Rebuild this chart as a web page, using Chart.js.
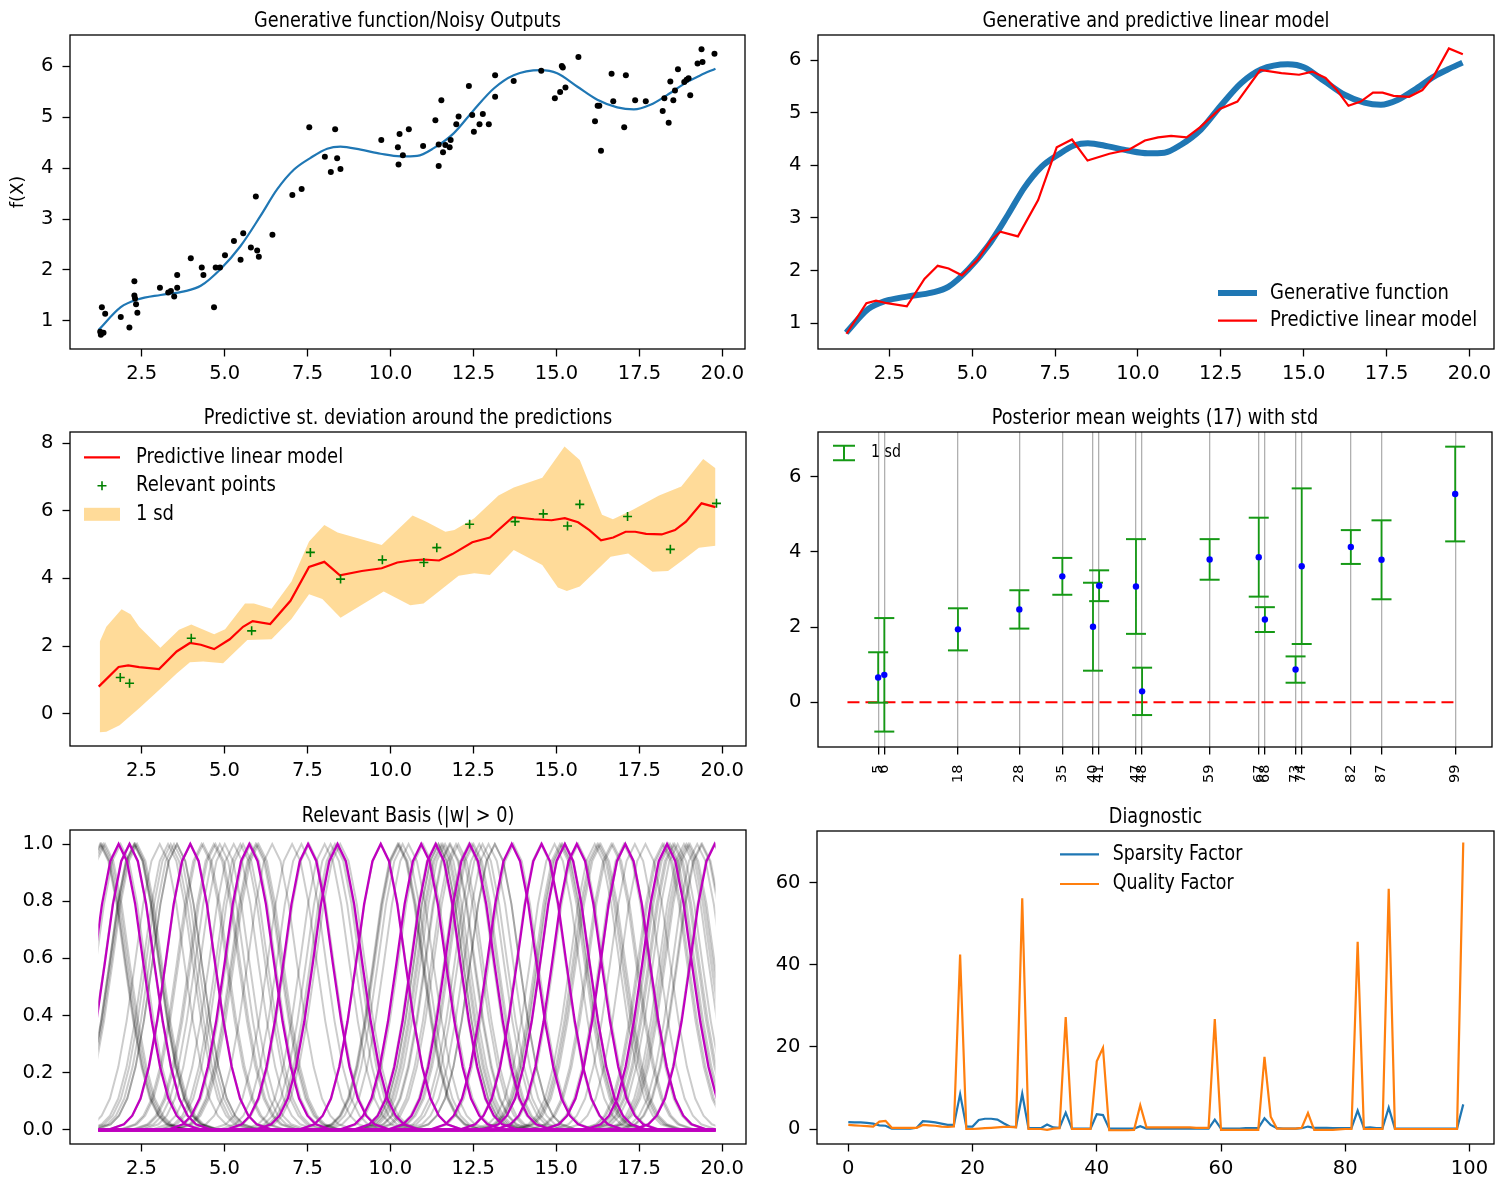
<!DOCTYPE html>
<html>
<head>
<meta charset="utf-8">
<script src="https://cdn.jsdelivr.net/npm/chart.js@4.4.0/dist/chart.umd.min.js"></script>
<style>
  body { margin: 0; background: #fff; width: 1500px; height: 1182px; position: relative; overflow: hidden; }
  canvas { position: absolute; }
</style>
</head>
<body>
<canvas id="c1"></canvas>
<canvas id="c2"></canvas>
<canvas id="c3"></canvas>
<canvas id="c4"></canvas>
<canvas id="c5"></canvas>
<canvas id="c6"></canvas>
<script>
// noisy observations (x sorted)
const dataX = [1.25, 1.27, 1.30, 1.35, 1.40, 1.87, 2.13, 2.28, 2.28, 2.30, 2.33, 2.37, 3.05, 3.30, 3.38, 3.48, 3.57, 3.57,
  3.98, 4.31, 4.36, 4.68, 4.73, 4.86, 5.01, 5.28, 5.48, 5.56, 5.79, 5.94, 5.98, 6.03, 6.44, 7.04, 7.32, 7.55, 8.02, 8.20,
  8.33, 8.39, 8.49, 9.72, 10.22, 10.24, 10.27, 10.37, 10.55, 10.98, 11.35, 11.45, 11.45, 11.53, 11.58, 11.65, 11.78, 11.81,
  11.98, 12.05, 12.36, 12.46, 12.51, 12.68, 12.78, 12.96, 13.15, 13.15, 13.71, 14.54, 14.95, 15.11, 15.16, 15.19, 15.27,
  15.66, 16.16, 16.24, 16.29, 16.34, 16.66, 16.71, 17.04, 17.09, 17.37, 17.69, 18.20, 18.25, 18.38, 18.43, 18.52, 18.57,
  18.66, 18.85, 18.92, 18.98, 19.03, 19.25, 19.37, 19.40, 19.76];
const dataY = [0.79, 0.73, 1.27, 0.77, 1.14, 1.08, 0.87, 1.78, 1.50, 1.44, 1.33, 1.16, 1.65, 1.56, 1.59, 1.48, 1.65, 1.90,
  2.23, 2.05, 1.90, 1.27, 2.05, 2.05, 2.29, 2.57, 2.20, 2.72, 2.44, 3.44, 2.38, 2.26, 2.69, 3.47, 3.59, 4.80, 4.22, 3.92,
  4.76, 4.19, 3.98, 4.55, 4.41, 4.07, 4.67, 4.25, 4.76, 4.43, 4.94, 4.46, 4.04, 5.33, 4.31, 4.45, 4.41, 4.55,
  4.86, 5.01, 5.61, 5.04, 4.71, 4.86, 5.06, 4.86, 5.82, 5.40, 5.71, 5.91, 5.37, 5.49, 6.00, 5.97, 5.58,
  6.18, 4.92, 5.22, 5.22, 4.34, 5.85, 5.31, 4.80, 5.82, 5.33, 5.31, 5.12, 5.37, 4.89, 5.70, 5.33, 5.52,
  5.94, 5.69, 5.73, 5.76, 5.43, 6.05, 6.33, 6.08, 6.24];

// generative function
const genX = [1.20, 1.87, 2.37, 3.07, 3.78, 4.28, 4.88, 5.48, 6.08, 6.58, 7.09, 7.59, 8.09, 8.49, 9.10, 9.70, 10.30,
  10.80, 11.30, 11.90, 12.51, 13.11, 13.71, 14.52, 15.02, 15.62, 16.23, 16.83, 17.33, 17.83, 18.33, 18.94, 19.34, 19.79];
const genY = [0.82, 1.27, 1.42, 1.51, 1.58, 1.69, 2.02, 2.47, 3.06, 3.58, 3.97, 4.20, 4.38, 4.42, 4.36, 4.28, 4.23,
  4.24, 4.39, 4.68, 5.14, 5.56, 5.82, 5.92, 5.86, 5.60, 5.34, 5.19, 5.15, 5.24, 5.43, 5.69, 5.82, 5.95];

// predictive linear model
const predX = [1.21, 1.81, 2.10, 2.43, 3.03, 3.56, 3.96, 4.29, 4.69, 5.16, 5.56, 5.85, 6.38, 6.99, 7.55, 8.01, 8.48,
  9.14, 9.74, 10.21, 10.61, 11.00, 11.47, 11.87, 12.47, 13.00, 13.69, 14.33, 14.86, 15.26, 15.66, 16.00, 16.35, 16.72,
  17.09, 17.38, 17.71, 18.18, 18.58, 18.91, 19.38, 19.80];
const predY = [0.80, 1.38, 1.43, 1.38, 1.32, 1.84, 2.09, 2.04, 1.91, 2.20, 2.57, 2.74, 2.65, 3.34, 4.34, 4.49, 4.09,
  4.22, 4.30, 4.47, 4.53, 4.56, 4.53, 4.72, 5.07, 5.21, 5.81, 5.75, 5.72, 5.78, 5.66, 5.43, 5.13, 5.21,
  5.38, 5.38, 5.32, 5.30, 5.43, 5.68, 6.22, 6.11];

// 1 sd band
const bandUpX = [1.24, 1.44, 1.90, 2.17, 2.43, 3.07, 3.63, 4.00, 4.69, 5.02, 5.62, 5.89, 6.42, 7.02, 7.55, 8.01, 8.41,
  9.74, 10.67, 11.07, 11.66, 11.93, 12.53, 13.26, 13.72, 14.58, 15.25, 15.71, 16.38, 16.71, 17.31, 18.10, 18.77, 19.43, 19.80];
const bandUpY = [2.13, 2.57, 3.09, 2.94, 2.57, 1.95, 2.48, 2.64, 2.35, 2.50, 3.26, 3.26, 3.10, 3.91, 5.09, 5.58, 5.36,
  4.99, 5.86, 5.68, 5.38, 5.43, 5.78, 6.45, 6.69, 6.98, 7.90, 7.50, 5.88, 5.75, 6.03, 6.45, 6.72, 7.53, 7.26];
const bandLoX = [1.24, 1.44, 1.84, 2.43, 3.03, 3.56, 3.96, 4.36, 4.96, 5.69, 6.42, 7.02, 7.55, 7.95, 8.50, 9.80, 10.60,
  11.00, 11.46, 12.06, 12.53, 13.00, 13.72, 14.58, 15.05, 15.32, 15.71, 16.64, 17.17, 17.90, 18.37, 18.83, 19.30, 19.80];
const bandLoY = [-0.55, -0.53, -0.34, 0.16, 0.70, 1.19, 1.52, 1.54, 1.49, 2.18, 2.20, 2.80, 3.53, 3.39, 2.84, 3.61, 3.21,
  3.26, 3.61, 4.08, 4.15, 4.10, 4.84, 4.40, 3.73, 3.63, 3.76, 4.64, 4.74, 4.20, 4.22, 4.55, 4.91, 4.97];

// relevant points
const relX = [1.86, 2.14, 4.00, 5.82, 7.59, 8.50, 9.76, 11.01, 11.40, 12.39, 13.76, 14.61, 15.34, 15.71, 17.15, 18.44, 19.83];
const relY = [1.07, 0.90, 2.23, 2.45, 4.77, 3.98, 4.55, 4.47, 4.91, 5.60, 5.68, 5.91, 5.55, 6.19, 5.83, 4.86, 6.22];

// posterior weights
const weightIdx = [5, 6, 18, 28, 35, 40, 41, 47, 48, 59, 67, 68, 73, 74, 82, 87, 99];
const weightMean = [0.66, 0.73, 1.94, 2.47, 3.35, 2.01, 3.10, 3.08, 0.29, 3.80, 3.86, 2.20, 0.87, 3.62, 4.13, 3.79, 5.54];
const weightStd = [0.67, 1.51, 0.56, 0.51, 0.49, 1.17, 0.41, 1.26, 0.63, 0.54, 1.05, 0.33, 0.35, 2.07, 0.45, 1.05, 1.26];
const zeroLineX = [0, 99];
const zeroLineY = [0, 0];

// basis bump (value vs distance from centre)
const basisOffset = [-20, -2.5, -2.0, -1.75, -1.5, -1.25, -1.0, -0.75, -0.5, -0.25, 0, 0.25, 0.5, 0.75, 1.0, 1.25, 1.5, 1.75, 2.0, 2.5, 20];
const basisValue = [0, 0, 0.02, 0.05, 0.11, 0.22, 0.38, 0.58, 0.79, 0.94, 1.0, 0.94, 0.79, 0.58, 0.38, 0.22, 0.11, 0.05, 0.02, 0, 0];
const relCenters = [1.81, 2.14, 3.97, 5.75, 7.52, 8.41, 9.71, 10.93, 11.37, 12.39, 13.66, 14.56, 15.26, 15.62, 17.08, 18.34, 19.78];

// diagnostic factors, one per basis index 0..99
const sparsity = [1.7, 1.6, 1.6, 1.5, 1.3, 0.9, 0.8, 0.1, 0.1, 0.1,
  0.1, 0.3, 1.9, 1.8, 1.6, 1.3, 1.0, 1.0, 8.5, 0.6,
  0.6, 2.2, 2.5, 2.5, 2.3, 1.4, 0.6, 0.5, 8.6, 0.2,
  0.2, 0.2, 1.1, 0.4, 0.3, 4.0, 0.1, 0.1, 0.1, 0.1,
  3.6, 3.4, 0.1, 0.1, 0.1, 0.1, 0.1, 0.7, 0.1, 0.1,
  0.1, 0.1, 0.1, 0.1, 0.1, 0.1, 0.1, 0.1, 0.1, 2.3,
  0.1, 0.1, 0.1, 0.1, 0.2, 0.2, 0.2, 2.6, 1.0, 0.2,
  0.1, 0.1, 0.1, 0.2, 0.6, 0.3, 0.3, 0.3, 0.2, 0.2,
  0.2, 0.2, 4.5, 0.3, 0.4, 0.2, 0.2, 5.2, 0.1, 0.1,
  0.1, 0.1, 0.1, 0.1, 0.1, 0.1, 0.1, 0.1, 0.1, 6.0];
const quality = [1.0, 0.9, 0.8, 0.7, 0.6, 1.8, 2.0, 0.3, 0.3, 0.3,
  0.3, 0.3, 1.0, 0.9, 0.8, 0.6, 0.5, 0.6, 42.5, 0.0,
  0.0, 0.1, 0.2, 0.3, 0.4, 0.5, 0.5, 0.4, 56.2, 0.0,
  0.0, 0.0, -0.2, 0.1, 0.2, 27.3, 0.0, 0.0, 0.0, 0.0,
  16.5, 19.8, -0.3, -0.3, -0.3, -0.3, -0.2, 5.8, 0.4, 0.4,
  0.4, 0.4, 0.4, 0.4, 0.4, 0.4, 0.3, 0.3, 0.3, 26.8,
  -0.2, -0.2, -0.2, -0.2, -0.2, -0.2, -0.2, 17.6, 3.0, 0.1,
  0.1, 0.1, 0.1, 0.3, 3.9, -0.2, -0.2, -0.2, -0.2, -0.1,
  0.0, 0.0, 45.6, 0.0, 0.0, 0.0, 0.0, 58.5, 0.0, 0.0,
  0.0, 0.0, 0.0, 0.0, 0.0, 0.0, 0.0, 0.0, 0.0, 69.8];

// tick values
const xTicksX = [2.5, 5.0, 7.5, 10.0, 12.5, 15.0, 17.5, 20.0];
const yTicksF = [1, 2, 3, 4, 5, 6];
const yTicksPred = [0, 2, 4, 6, 8];
const yTicksW = [0, 2, 4, 6];
const yTicksBasis = [0, 0.2, 0.4, 0.6, 0.8, 1.0];
const xTicksDiag = [0, 20, 40, 60, 80, 100];
const yTicksDiag = [0, 20, 40, 60];

const FONT = 'DejaVu Sans';
const STRETCH = 1.2;
const PAD = { l: 68, t: 40, r: 10, b: 48 };
Chart.defaults.font.family = FONT;
Chart.defaults.color = '#000';

const pts = (xs, ys) => xs.map((x, i) => ({ x, y: ys[i] }));
const f1 = v => v.toFixed(1);
const f0 = v => String(v);

function tallText(ctx, text, x, y, size, align, baseline) {
  ctx.save();
  ctx.translate(x, y);
  ctx.scale(1, STRETCH);
  ctx.font = size + 'px "' + FONT + '"';
  ctx.textAlign = align;
  ctx.textBaseline = baseline;
  ctx.fillStyle = '#000';
  ctx.fillText(text, 0, 0);
  ctx.restore();
}

// frame, title, y label and legend
const decor = {
  id: 'decor',
  afterDraw(chart, args, o) {
    const { ctx, chartArea: a } = chart;
    ctx.save();
    ctx.strokeStyle = '#000';
    ctx.lineWidth = 1.3;
    ctx.strokeRect(a.left, a.top, a.right - a.left, a.bottom - a.top);
    if (o.title) tallText(ctx, o.title, (a.left + a.right) / 2, a.top - 8, 17.7, 'center', 'alphabetic');
    if (o.ylabel) {
      ctx.save();
      ctx.translate(a.left - 52, (a.top + a.bottom) / 2);
      ctx.rotate(-Math.PI / 2);
      ctx.font = '18px "' + FONT + '"';
      ctx.textAlign = 'center';
      ctx.textBaseline = 'middle';
      ctx.fillStyle = '#000';
      ctx.fillText(o.ylabel, 0, 0);
      ctx.restore();
    }
    const L = o.legend;
    if (L) {
      L.items.forEach((it, i) => {
        const y = a.top + L.y + i * L.row;
        const x0 = a.left + L.x, x1 = x0 + L.len, xm = (x0 + x1) / 2;
        ctx.save();
        ctx.strokeStyle = it.color;
        ctx.fillStyle = it.color;
        ctx.beginPath();
        if (it.kind === 'line') {
          ctx.lineWidth = it.width;
          ctx.moveTo(x0, y); ctx.lineTo(x1, y);
          ctx.stroke();
        } else if (it.kind === 'plus') {
          ctx.lineWidth = 1.6;
          ctx.moveTo(xm - 4.5, y); ctx.lineTo(xm + 4.5, y);
          ctx.moveTo(xm, y - 4.5); ctx.lineTo(xm, y + 4.5);
          ctx.stroke();
        } else if (it.kind === 'patch') {
          ctx.fillRect(x0, y - 6.5, L.len, 13);
        } else if (it.kind === 'errbar') {
          ctx.lineWidth = 2;
          ctx.moveTo(xm, y - 7.3); ctx.lineTo(xm, y + 7.3);
          ctx.moveTo(x0, y - 7.3); ctx.lineTo(x1, y - 7.3);
          ctx.moveTo(x0, y + 7.3); ctx.lineTo(x1, y + 7.3);
          ctx.stroke();
        }
        ctx.restore();
        tallText(ctx, it.text, x0 + L.tx, y, L.size, 'left', 'middle');
      });
    }
    ctx.restore();
  }
};

// keep basis curves inside the sampled x range
const clipToData = {
  id: 'clipToData',
  beforeDatasetsDraw(chart, args, o) {
    const { ctx, chartArea: a, scales } = chart;
    const p0 = scales.x.getPixelForValue(o.lo), p1 = scales.x.getPixelForValue(o.hi);
    ctx.save();
    ctx.beginPath();
    ctx.rect(p0, a.top - 5, p1 - p0, a.bottom - a.top + 10);
    ctx.clip();
  },
  afterDatasetsDraw(chart) {
    chart.ctx.restore();
  }
};

function axis(side, ticksArr, min, max, fmt, over) {
  const isX = side === 'x';
  const cfg = {
    type: 'linear', position: isX ? 'bottom' : 'left', min, max,
    afterBuildTicks: s => { s.ticks = ticksArr.map(v => ({ value: v })); },
    afterFit: s => { if (isX) s.height = PAD.b; else s.width = PAD.l; },
    ticks: { callback: fmt, autoSkip: false, maxRotation: 0, minRotation: 0, color: '#000',
      font: { family: FONT, size: 19.5 }, padding: isX ? 6 : 9 },
    grid: { drawOnChartArea: false, tickLength: 7.5, tickColor: '#000', tickWidth: 1.3 },
    border: { display: false }
  };
  if (over) {
    for (const k in over) cfg[k] = Object.assign({}, cfg[k], over[k]);
  }
  return cfg;
}

function panel(id, box, datasets, scales, decorOpts, extra) {
  const cv = document.getElementById(id);
  const w = box.r - box.l + PAD.l + PAD.r;
  const h = box.b - box.t + PAD.t + PAD.b;
  cv.width = w; cv.height = h;
  cv.style.width = w + 'px'; cv.style.height = h + 'px';
  cv.style.left = (box.l - PAD.l) + 'px';
  cv.style.top = (box.t - PAD.t) + 'px';
  const plugins = [decor];
  const pluginOpts = { legend: { display: false }, tooltip: { enabled: false }, decor: decorOpts };
  if (extra) { plugins.push(clipToData); pluginOpts.clipToData = extra; }
  return new Chart(cv, {
    type: 'line',
    data: { datasets },
    options: {
      responsive: false, animation: false, devicePixelRatio: 1, events: [],
      layout: { padding: { top: PAD.t, right: PAD.r, left: 0, bottom: 0 } },
      plugins: pluginOpts,
      scales
    },
    plugins
  });
}

const BLUE = '#1f77b4', ORANGE = '#ff7f0e', RED = '#ff0000', GREEN = '#008000', EGREEN = '#159915', MAG = '#bf00bf';

// 1: generative function / noisy outputs
panel('c1', { l: 70, t: 35, r: 745, b: 349 }, [
  { data: pts(dataX, dataY), showLine: false, pointRadius: 3, pointBackgroundColor: '#000', pointBorderWidth: 0 },
  { data: pts(genX, genY), borderColor: BLUE, borderWidth: 2.2, pointRadius: 0, cubicInterpolationMode: 'monotone' }
], {
  x: axis('x', xTicksX, 0.34, 20.68, f1),
  y: axis('y', yTicksF, 0.45, 6.61, f0)
}, { title: 'Generative function/Noisy Outputs', ylabel: 'f(X)' });

// 2: generative vs predictive
panel('c2', { l: 818, t: 35, r: 1494, b: 349 }, [
  { data: pts(predX, predY), borderColor: RED, borderWidth: 2.2, pointRadius: 0 },
  { data: pts(genX, genY), borderColor: BLUE, borderWidth: 6, pointRadius: 0, cubicInterpolationMode: 'monotone' }
], {
  x: axis('x', xTicksX, 0.35, 20.74, f1),
  y: axis('y', yTicksF, 0.51, 6.475, f0)
}, {
  title: 'Generative and predictive linear model',
  legend: { x: 400, y: 258, row: 27.6, len: 39, tx: 52, size: 18, items: [
    { kind: 'line', color: BLUE, width: 6, text: 'Generative function' },
    { kind: 'line', color: RED, width: 2.2, text: 'Predictive linear model' }
  ] }
});

// 3: predictive std band
panel('c3', { l: 70, t: 432, r: 746, b: 746 }, [
  { data: pts(relX, relY), showLine: false, pointStyle: 'cross', pointRadius: 4.5, pointBorderWidth: 1.6, pointBorderColor: GREEN },
  { data: pts(predX, predY), borderColor: RED, borderWidth: 2.2, pointRadius: 0 },
  { data: pts(bandUpX, bandUpY), borderColor: 'rgba(0,0,0,0)', borderWidth: 0, pointRadius: 0, fill: '+1', backgroundColor: 'rgba(255,165,0,0.4)' },
  { data: pts(bandLoX, bandLoY), borderColor: 'rgba(0,0,0,0)', borderWidth: 0, pointRadius: 0 }
], {
  x: axis('x', xTicksX, 0.345, 20.72, f1),
  y: axis('y', yTicksPred, -0.955, 8.33, f0)
}, {
  title: 'Predictive st. deviation around the predictions',
  legend: { x: 14, y: 25.3, row: 28.5, len: 36, tx: 52, size: 18, items: [
    { kind: 'line', color: RED, width: 2.2, text: 'Predictive linear model' },
    { kind: 'plus', color: GREEN, text: 'Relevant points' },
    { kind: 'patch', color: 'rgba(255,165,0,0.4)', text: '1 sd' }
  ] }
});

// 4: posterior weights with error bars
const errLines = weightIdx.flatMap((x, i) => [
  { x, y: weightMean[i] - weightStd[i] }, { x, y: weightMean[i] + weightStd[i] }, { x, y: null }]);
const errCaps = weightIdx.flatMap((x, i) => [
  { x, y: weightMean[i] - weightStd[i] }, { x, y: weightMean[i] + weightStd[i] }]);
panel('c4', { l: 818, t: 432, r: 1494, b: 747 }, [
  { data: pts(weightIdx, weightMean), showLine: false, pointRadius: 3.2, pointBackgroundColor: '#0000ff', pointBorderWidth: 0 },
  { data: errCaps, showLine: false, pointStyle: 'line', pointRadius: 10, pointBorderWidth: 2, pointBorderColor: EGREEN },
  { data: errLines, borderColor: EGREEN, borderWidth: 1.8, pointRadius: 0, spanGaps: false },
  { data: pts(zeroLineX, zeroLineY), borderColor: RED, borderWidth: 2, borderDash: [12, 6], pointRadius: 0 }
], {
  x: axis('x', weightIdx, -4.8, 105, f0, {
    ticks: { font: { family: FONT, size: 14.5 }, minRotation: 90, maxRotation: 90, padding: 10 },
    grid: { drawOnChartArea: true, color: '#b0b0b0', lineWidth: 1.3 }
  }),
  y: axis('y', yTicksW, -1.19, 7.19, f0)
}, {
  title: 'Posterior mean weights (17) with std',
  legend: { x: 15, y: 21, row: 28, len: 22, tx: 38, size: 14.2, items: [
    { kind: 'errbar', color: EGREEN, text: '1 sd' }
  ] }
});

// 5: relevant basis functions
const bump = c => basisOffset.map((o, k) => ({ x: c + o, y: basisValue[k] }));
const basisSets = [
  ...relCenters.map(c => ({ data: bump(c), borderColor: MAG, borderWidth: 2.3, pointRadius: 0 })),
  ...dataX.map(c => ({ data: bump(c), borderColor: 'rgba(0,0,0,0.2)', borderWidth: 2, pointRadius: 0 }))
];
panel('c5', { l: 70, t: 830, r: 746, b: 1144 }, basisSets, {
  x: axis('x', xTicksX, 0.345, 20.72, f1),
  y: axis('y', yTicksBasis, -0.049, 1.049, f1)
}, { title: 'Relevant Basis (|w| > 0)' }, { lo: dataX[0] - 0.05, hi: dataX[dataX.length - 1] + 0.04 });

// 6: diagnostic
const idx = sparsity.map((v, i) => i);
panel('c6', { l: 817, t: 831, r: 1494, b: 1144 }, [
  { data: pts(idx, quality), borderColor: ORANGE, borderWidth: 2.2, pointRadius: 0 },
  { data: pts(idx, sparsity), borderColor: BLUE, borderWidth: 2.2, pointRadius: 0 }
], {
  x: axis('x', xTicksDiag, -5.04, 103.95, f0),
  y: axis('y', yTicksDiag, -3.65, 72.6, f0)
}, {
  title: 'Diagnostic',
  legend: { x: 243, y: 23.3, row: 29.7, len: 39, tx: 52.7, size: 17.4, items: [
    { kind: 'line', color: BLUE, width: 2.2, text: 'Sparsity Factor' },
    { kind: 'line', color: ORANGE, width: 2.2, text: 'Quality Factor' }
  ] }
});
</script>
</body>
</html>
